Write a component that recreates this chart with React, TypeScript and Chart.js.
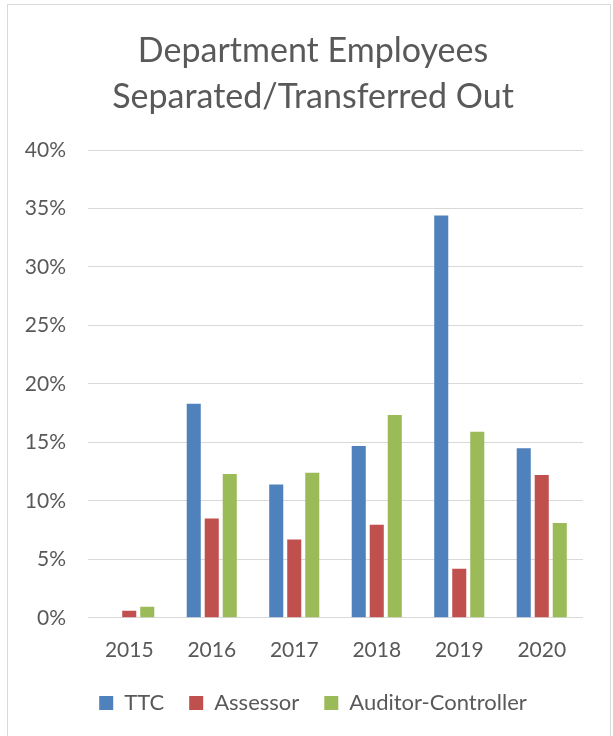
import React, { useEffect, useRef } from "react";
import { Chart, registerables } from "chart.js";

Chart.register(...registerables);

const categories = ["2015", "2016", "2017", "2018", "2019", "2020"];
const ttc = [0, 18.3, 11.4, 14.7, 34.4, 14.5];
const assessor = [0.6, 8.5, 6.7, 7.95, 4.2, 12.2];
const auditorController = [0.95, 12.3, 12.4, 17.35, 15.9, 8.1];
const yTicks = [0, 5, 10, 15, 20, 25, 30, 35, 40];
const titleLines = ["Department Employees", "Separated/Transferred Out"];

const TEXT = "#595959";
const FONT = "Lato";

export default function App() {
  const ref = useRef<HTMLCanvasElement | null>(null);

  useEffect(() => {
    if (!ref.current) return;
    const chart = new Chart(ref.current, {
      type: "bar",
      data: {
        labels: categories,
        datasets: [
          { label: "TTC", data: ttc, backgroundColor: "#4F81BD" },
          { label: "Assessor", data: assessor, backgroundColor: "#C0504D" },
          { label: "Auditor-Controller", data: auditorController, backgroundColor: "#9BBB59" },
        ],
      },
      options: {
        responsive: false,
        animation: false,
        devicePixelRatio: 1,
        layout: { padding: { left: 8, right: 0, top: 0, bottom: 10 } },
        datasets: {
          bar: { categoryPercentage: 0.655, barPercentage: 0.78 },
        },
        plugins: {
          title: {
            display: true,
            text: titleLines,
            color: TEXT,
            font: { family: FONT, size: 34, weight: "normal", lineHeight: 1.353 },
            padding: { top: 23, bottom: 30 },
          },
          legend: {
            position: "bottom",
            labels: {
              color: TEXT,
              font: { family: FONT, size: 22 },
              boxWidth: 14,
              boxHeight: 14,
              padding: 25,
            },
          },
          tooltip: { enabled: false },
        },
        scales: {
          x: {
            grid: { display: false, drawTicks: false },
            border: { display: false },
            ticks: { color: TEXT, font: { family: FONT, size: 21 }, padding: 20 },
            afterFit: (scale: any) => {
              scale.height = scale.height - 16;
            },
          },
          y: {
            min: 0,
            max: 40,
            afterBuildTicks: (scale: any) => {
              scale.ticks = yTicks.map((v) => ({ value: v }));
            },
            afterFit: (scale: any) => {
              scale.width = 72;
            },
            grid: { color: "#D9D9D9", lineWidth: 1, drawTicks: false },
            border: { display: false },
            ticks: {
              color: TEXT,
              font: { family: FONT, size: 21 },
              padding: 22,
              callback: (v: any) => v + "%",
            },
          },
          ySpacer: {
            type: "linear",
            position: "right",
            display: true,
            grid: { display: false, drawTicks: false },
            border: { display: false },
            ticks: { display: false },
            afterFit: (scale: any) => {
              scale.width = 27;
            },
          },
        },
      },
    });
    return () => chart.destroy();
  }, []);

  return (
    <div
      style={{
        position: "absolute",
        left: 7,
        top: 4,
        width: 602,
        height: 740,
        border: "1px solid #D9D9D9",
        background: "#fff",
      }}
    >
      <canvas ref={ref} width={602} height={729} style={{ display: "block" }} />
    </div>
  );
}
